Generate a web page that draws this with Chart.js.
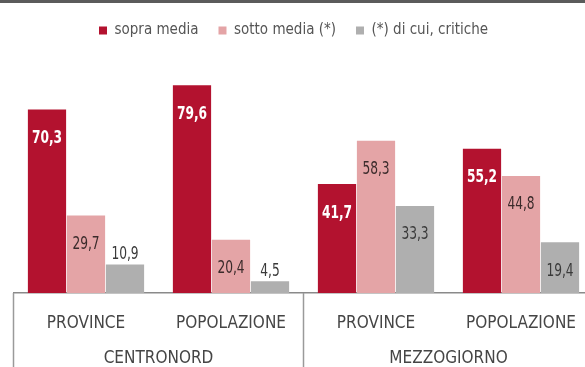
<!DOCTYPE html>
<html>
<head>
<meta charset="utf-8">
<script src="https://cdn.jsdelivr.net/npm/chart.js@4.4.1/dist/chart.umd.min.js"></script>
<style>
    html, body { margin: 0; padding: 0; background: #fff; overflow: hidden; width: 585px; height: 367px; }
    #topline { position: absolute; left: 0; top: 0; width: 585px; height: 3px; background: #5b5b5b; z-index: 2; }
    #chart { position: absolute; left: 0; top: -2px; }
</style>
</head>
<body>
<div id="topline"></div>
<canvas id="chart" width="600" height="369"></canvas>
<script>
const categories = ["PROVINCE", "POPOLAZIONE", "PROVINCE", "POPOLAZIONE"];
const groups = ["CENTRONORD", "MEZZOGIORNO"];
const seriesNames = ["sopra media", "sotto media (*)", "(*) di cui, critiche"];
const sopraMedia = [70.3, 79.6, 41.7, 55.2];
const sottoMedia = [29.7, 20.4, 58.3, 44.8];
const critiche = [10.9, 4.5, 33.3, 19.4];

const colors = ["#b3122f", "#e4a4a6", "#afafaf"];
const labelColors = ["#ffffff", "#3b2b2b", "#3a3a3a"];

Chart.defaults.font.family = "'Liberation Sans Narrow', 'DejaVu Sans Condensed', sans-serif";

// legend gets a fixed height so the plot area starts where the reference does,
// and sits a little left of the canvas centre like in the picture
const legendHeight = {
    id: "legendHeight",
    beforeInit(chart) {
        const fit = chart.legend.fit;
        chart.legend.fit = function () {
            fit.bind(chart.legend)();
            this.height = 55;
        };
    },
    afterLayout(chart) {
        chart.legend.left -= 10;
        chart.legend.right -= 10;
    }
};

// values written on the bars, inside near the top or just above short ones
const barValues = {
    id: "barValues",
    afterDatasetsDraw(chart) {
        const ctx = chart.ctx;
        chart.data.datasets.forEach((ds, i) => {
            const meta = chart.getDatasetMeta(i);
            meta.data.forEach((bar, j) => {
                const h = bar.base - bar.y;
                const inside = h > 40;
                ctx.save();
                ctx.textAlign = "center";
                ctx.textBaseline = "middle";
                ctx.font = (i === 0 ? "bold " : "") + "17px " + Chart.defaults.font.family;
                ctx.fillStyle = inside ? labelColors[i] : "#3a3a3a";
                ctx.translate(bar.x, inside ? bar.y + 29 : bar.y - 10);
                ctx.scale(0.8, 1); // the reference uses a narrow face
                ctx.fillText(ds.data[j].toFixed(1).replace(".", ","), 0, 0);
                ctx.restore();
            });
        });
    }
};

// vertical separators under the axis between the two groups
const groupLines = {
    id: "groupLines",
    afterDraw(chart) {
        const x = chart.scales.x;
        const ctx = chart.ctx;
        const top = chart.chartArea.bottom;
        const mid = (x.getPixelForValue(1) + x.getPixelForValue(2)) / 2;
        ctx.save();
        ctx.strokeStyle = "#9a9a9a";
        ctx.lineWidth = 1.5;
        [x.left, mid, x.right].forEach(px => {
            ctx.beginPath();
            ctx.moveTo(px, top);
            ctx.lineTo(px, chart.height);
            ctx.stroke();
        });
        ctx.restore();
    }
};

new Chart(document.getElementById("chart"), {
    type: "bar",
    data: {
        labels: categories,
        datasets: [
            { label: seriesNames[0], data: sopraMedia, backgroundColor: colors[0] },
            { label: seriesNames[1], data: sottoMedia, backgroundColor: colors[1] },
            { label: seriesNames[2], data: critiche, backgroundColor: colors[2] }
        ]
    },
    options: {
        responsive: false,
        animation: false,
        devicePixelRatio: 1,
        categoryPercentage: 0.807,
        barPercentage: 0.98,
        layout: { padding: { left: 13.5, right: 6.5, top: 5, bottom: 0 } },
        plugins: {
            tooltip: { enabled: false },
            legend: {
                position: "top",
                labels: {
                    boxWidth: 8,
                    boxHeight: 8,
                    padding: 20,
                    color: "#555555",
                    font: { size: 15 }
                }
            }
        },
        scales: {
            y: { display: false, min: 0, max: 90 },
            x: {
                grid: { display: false },
                border: { display: true, color: "#8a8a8a", width: 1.5 },
                ticks: { color: "#454545", padding: 13, font: { size: 17, lineHeight: 1.1 } },
                afterFit(scale) { scale.height = 39; }
            },
            x2: {
                type: "category",
                labels: groups,
                position: "bottom",
                offset: true,
                grid: { display: false },
                border: { display: false },
                ticks: { color: "#454545", padding: 9, font: { size: 17, lineHeight: 1.1 } },
                afterFit(scale) { scale.height = 35; }
            }
        }
    },
    plugins: [legendHeight, barValues, groupLines]
});
</script>
</body>
</html>
